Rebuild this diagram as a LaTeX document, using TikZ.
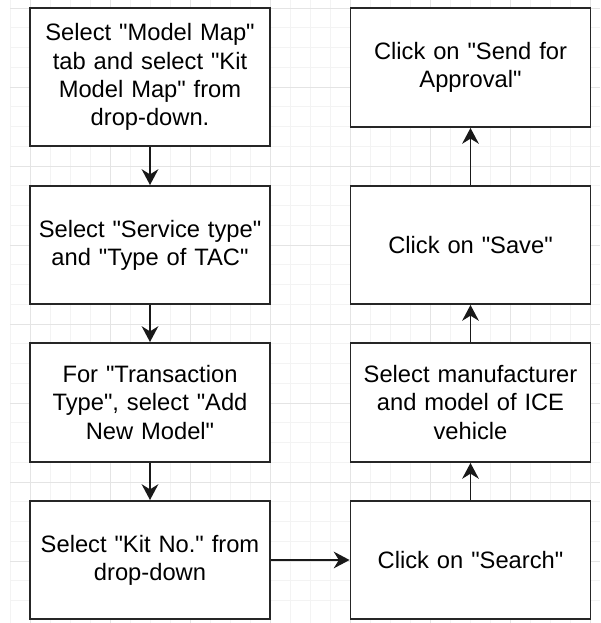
\documentclass[tikz,border=0pt]{standalone}
\usepackage{fontspec}
\setmainfont{Liberation Sans}[Ligatures=TeXOff]
\usetikzlibrary{arrows.meta}

\definecolor{gridminor}{HTML}{F3F3F3}
\definecolor{gridmajor}{HTML}{E4E4E4}

\tikzset{
	stepbox/.style={draw=black!85, line width=1.1pt, fill=white, minimum width=4.8cm,
		text width=4.6cm, align=center, inner sep=0pt, font=\fontsize{13.5}{16}\selectfont},
	flow/.style={line width=1.1pt, draw=black!90, -{Stealth[length=9pt,width=9.5pt]}},
}

\begin{document}
\begin{tikzpicture}[x=0.02cm, y=-0.02cm]
			%%%%% GRID %%%%%
			\useasboundingbox (0,0) rectangle (600,623);
			\fill[white] (0,0) rectangle (600,623);
			
			\foreach \gx in {10,30,...,590}
				\draw[gridminor, line width=0.5pt] (\gx,0) -- (\gx,623);
			\foreach \i in {0,...,30}
				\draw[gridminor, line width=0.5pt] (10,{8+19.75*\i}) -- (600,{8+19.75*\i});
			\foreach \gx in {30,110,...,590}
				\draw[gridmajor, line width=0.5pt] (\gx,0) -- (\gx,623);
			\foreach \i in {0,...,7}
				\draw[gridmajor, line width=0.5pt] (10,{8+79*\i}) -- (600,{8+79*\i});
			
			%%%%% LEFT COLUMN %%%%%
			\node[stepbox, minimum height=2.76cm] (mapTab) at (150,77)
				{Select "Model Map"\\ tab and select "Kit\\ Model Map" from\\ drop-down.};
			\node[stepbox, minimum height=2.36cm] (serviceType) at (150,245)
				{Select "Service type"\\ and "Type of TAC"};
			\node[stepbox, minimum height=2.38cm] (transType) at (150,402.5)
				{For "Transaction\\ Type", select "Add\\ New Model"};
			\node[stepbox, minimum height=2.36cm] (kitNo) at (150,560)
				{Select "Kit No." from\\ drop-down};
			
			%%%%% RIGHT COLUMN %%%%%
			\node[stepbox, minimum height=2.36cm] (search) at (470.5,560)
				{Click on "Search"};
			\node[stepbox, minimum height=2.38cm] (vehicle) at (470.5,402.5)
				{Select manufacturer\\ and model of ICE\\ vehicle};
			\node[stepbox, minimum height=2.36cm] (save) at (470.5,245)
				{Click on "Save"};
			\node[stepbox, minimum height=2.38cm] (approval) at (470.5,67.5)
				{Click on "Send for\\ Approval"};
			
			%%%%% ARROWS %%%%%
			\draw[flow] (mapTab) -- (serviceType);
			\draw[flow] (serviceType) -- (transType);
			\draw[flow] (transType) -- (kitNo);
			\draw[flow] (kitNo) -- (search);
			\draw[flow] (search) -- (vehicle);
			\draw[flow] (vehicle) -- (save);
			\draw[flow] (save) -- (approval);
			
			%%%%% END %%%%%
\end{tikzpicture}
\end{document}
